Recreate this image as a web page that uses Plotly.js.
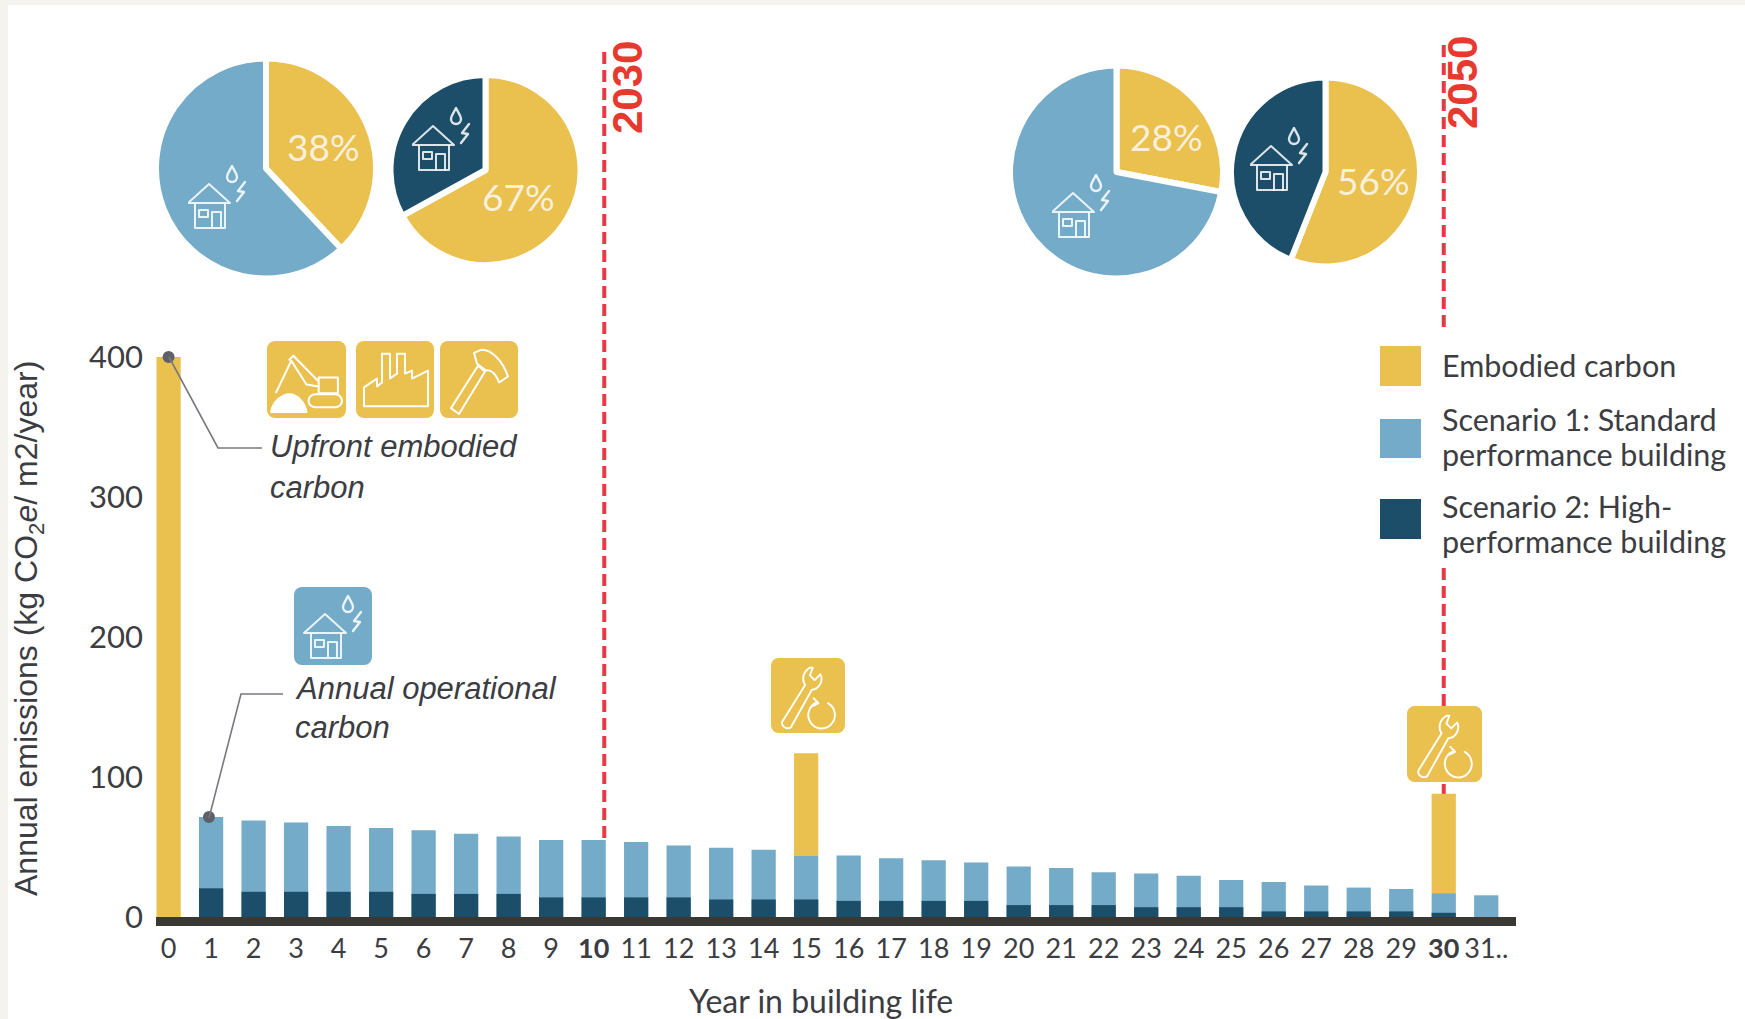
<!DOCTYPE html>
<html>
<head>
<meta charset="utf-8">
<title>Annual emissions over building life</title>
<script src="https://cdn.plot.ly/plotly-3.0.1.min.js"></script>
<style>html,body{margin:0;padding:0;background:#fff}#chart{width:1745px;height:1019px}</style>
</head>
<body>
<div id="chart"></div>
<script>
// Annual emissions per year of building life (kg CO2e/m2/year)
const years = [0,1,2,3,4,5,6,7,8,9,10,11,12,13,14,15,16,17,18,19,20,21,22,23,24,25,26,27,28,29,30,31];
const yearLabels = ['0','1','2','3','4','5','6','7','8','9','<b>10</b>','11','12','13','14','15','16','17','18','19','20','21','22','23','24','25','26','27','28','29','<b>30</b>','31..'];
const scenario1 = [0,71.5,69,67.5,65,63.5,62,59.5,57.5,55,55,53.5,51,49.5,48,44,44,42,40.5,39,36,35,32,31,29.5,26.5,25,22.5,21,20,17,15.5];
const scenario2 = [0,20.5,18,18,18,18,16.5,16.5,16.5,14,14,14,14,12.5,12.5,12.5,11.5,11.5,11.5,11.5,8.5,8.5,8.5,7,7,7,4,4,4,4,3,0];
const embodied  = [400,0,0,0,0,0,0,0,0,0,0,0,0,0,0,73,0,0,0,0,0,0,0,0,0,0,0,0,0,0,71,0];
const yTicks = [0,100,200,300,400];

// Share of whole-life carbon at 2030 and 2050 for each scenario
const shareLabels = ['Embodied carbon','Operational carbon'];
const share2030s1 = [38,62];
const share2030s2 = [67,33];
const share2050s1 = [28,72];
const share2050s2 = [56,44];

const GOLD='#eac04f', BLUE='#74abc8', NAVY='#1c4e69', BASE='#3a3835', RED='#e63946', INK='#3c3d42';
const W=1745, H=1019;
const px = x => x/W;
const py = y => 1-y/H;

const bars = [
  {type:'bar',name:'Embodied carbon',x:years,y:embodied,base:scenario1,marker:{color:GOLD}},
  {type:'bar',name:'Scenario 1: Standard performance building',x:years,y:scenario1,marker:{color:BLUE}},
  {type:'bar',name:'Scenario 2: High-performance building',x:years,y:scenario2,marker:{color:NAVY}}
].map(t=>Object.assign(t,{width:0.57,showlegend:false,hoverinfo:'x+y+name'}));

// Callout anchors sit on the top of year 0 and year 1
const anchors = {type:'scatter',mode:'markers',x:[0,years[1]-0.05],y:[embodied[0],scenario1[1]],cliponaxis:false,
  marker:{size:12,color:'#5d6068'},showlegend:false,hoverinfo:'skip'};

function pie(values,cx,cy,r,second){
  return {type:'pie',values:values,labels:shareLabels,sort:false,direction:'clockwise',rotation:0,
    marker:{colors:[GOLD,second],line:{color:'#fff',width:6}},textinfo:'none',hoverinfo:'label+percent',showlegend:false,
    domain:{x:[px(cx-r-3),px(cx+r+3)],y:[py(cy+r+3),py(cy-r-3)]}};
}
const pies = [
  pie(share2030s1,266,168.5,107,BLUE),
  pie(share2030s2,485.5,170,92,NAVY),
  pie(share2050s1,1116.5,172,103.5,BLUE),
  pie(share2050s2,1325.5,172,91.5,NAVY)
];

// Line-art icons, as small SVG documents
const svg = (w,h,body)=>'data:image/svg+xml;utf8,'+encodeURIComponent(
  `<svg xmlns="http://www.w3.org/2000/svg" viewBox="0 0 ${w} ${h}" width="${w*3}" height="${h*3}"><g fill="none" stroke="#fff" stroke-width="2" stroke-linejoin="round" stroke-linecap="round">${body}</g></svg>`);
const tile = c=>`<rect x="0" y="0" width="78" height="78" rx="8" fill="${c}" stroke="none"/>`;
const houseArt = `<g stroke-opacity=".85">
  <path d="M0 40 L21 21 L42 40 Z"/><path d="M7 41 V65 H37 V41"/>
  <rect x="11" y="47" width="9" height="7"/><path d="M24 65 V49 H33 V65"/>
  <path d="M44 3 C41 9 39 11 39 14 A5 5 0 0 0 49 14 C49 11 47 9 44 3 Z" stroke-width="2.4"/>
  <path d="M57 19 L50 28 L56 29 L49 38" stroke-width="2.4"/></g>`;
const excavator = `<rect x="41" y="54" width="33" height="13" rx="6.5"/><rect x="51" y="37" width="19" height="16"/>
  <path d="M51 46 L39 44 L24 20 L9 52"/><path d="M50 40 L26 15 L22 19"/>
  <path d="M4 72 C6 60 16 54 22 54 C30 54 37 62 39 72 Z" fill="#fff"/>`;
const factory = `<path d="M8 66 V47 L21 38 V46 L26 42 V13 H34 V38 L41 33 V13 H49 V33 L56 30 V38 L72 30 V66 Z"/>`;
const hammer = `<path d="M11 68 L38 25 L45 31 L19 74 Z"/><path d="M37 23 L34 12 L41 9 C50 8 62 18 68 36 L59 42 C56 33 50 28 46 30 Z"/>`;
const wrench = `<path d="M12 66 L36 28 C32 22 34 14 41 10 L44 10 L41 18 L46 23 L52 17 C56 24 50 33 43 33 L21 72 C17 75 10 71 12 66 Z"/>
  <path d="M49 46 A14 14 0 1 0 60 47"/><path d="M45 42 L50 47 L44 50"/>`;
function icon(src,x,y,w,h){return {source:src,xref:'paper',yref:'paper',x:px(x),y:py(y),sizex:w/W,sizey:h/H,sizing:'stretch',xanchor:'left',yanchor:'top',layer:'above'};}
const images = [
  icon(svg(78,78,tile(GOLD)+excavator),267,341,79,77),
  icon(svg(78,78,tile(GOLD)+factory),356,341,78,77),
  icon(svg(78,78,tile(GOLD)+hammer),440,341,78,77),
  icon(svg(78,78,tile(BLUE)+`<g transform="translate(10,6)">${houseArt}</g>`),294,587,78,78),
  icon(svg(78,78,tile(GOLD)+wrench),771,658,74,75),
  icon(svg(78,78,tile(GOLD)+wrench),1407,706,75,76),
  icon(svg(60,67,houseArt),188,163,60,67),
  icon(svg(60,67,houseArt),412,105,60,67),
  icon(svg(60,67,houseArt),1052,172,60,67),
  icon(svg(60,67,houseArt),1250,125,60,67)
];

const rectPx = (x0,y0,x1,y1,fill)=>({type:'rect',xref:'paper',yref:'paper',x0:px(x0),x1:px(x1),y0:py(y0),y1:py(y1),fillcolor:fill,line:{width:0},layer:'below'});
const dashed = (xv,y0,y1)=>({type:'line',xref:'x',yref:'paper',layer:'below',x0:xv,x1:xv,y0:py(y0),y1:py(y1),line:{color:RED,width:4,dash:'12px,6px'}});
const leader = pts=>({type:'path',xref:'paper',yref:'paper',path:pts.map((p,i)=>(i?'L':'M')+px(p[0])+','+py(p[1])).join(' '),line:{color:'#77797e',width:1.6}});
const shapes = [
  rectPx(0,0,8,H,'#f5f3ee'), rectPx(0,0,W,5,'#f5f3ee'),
  dashed(10.25,52,838), dashed(30,45,333), dashed(30,568,794),
  leader([[169,357],[218,448],[262,448]]),
  leader([[209,818],[241,694],[283,694]]),
  rectPx(1380,346,1421,386,GOLD), rectPx(1380,419,1421,458,BLUE), rectPx(1380,499,1421,539,NAVY)
];

const note = (text,x,y,opt)=>Object.assign({text:text,xref:'paper',yref:'paper',x:px(x),y:py(y),showarrow:false,xanchor:'left',yanchor:'middle',align:'left'},opt);
const legendFont = {family:'Lato, sans-serif',size:30.5,color:INK};
const calloutFont = {family:'Liberation Sans, sans-serif',size:31,color:INK};
const pctFont = {family:'Lato, sans-serif',size:37,color:'#f8f0da'};
const pct = (v,x,y)=>note(v+'%',x,y,{font:pctFont,xanchor:'center'});
const milestone = (t,x,y)=>note(t,x,y,{font:{family:'Liberation Sans, sans-serif',size:42,color:'#e8392e',weight:700},textangle:-90,xanchor:'center'});
const annotations = [
  pct(share2030s1[0],323,147), pct(share2030s2[0],518,196), pct(share2050s1[0],1166,137), pct(share2050s2[0],1373,180),
  milestone('2030',627,88), milestone('2050',1463,83),
  note('<i>Upfront embodied</i>',268,447,{font:calloutFont}), note('<i>carbon</i>',268,488,{font:calloutFont}),
  note('<i>Annual operational</i>',293,688,{font:calloutFont}), note('<i>carbon</i>',293,727,{font:calloutFont}),
  note('Embodied carbon',1440,365,{font:legendFont}),
  note('Scenario 1: Standard',1440,419,{font:legendFont}), note('performance building',1440,454,{font:legendFont}),
  note('Scenario 2: High-',1440,506,{font:legendFont}), note('performance building',1440,541,{font:legendFont}),
  // Axis titles, each centred on its own label block
  note('Year in building life',821,1000,{font:{size:32,color:INK},xanchor:'center'}),
  note('Annual emissions (kg CO<sub>2</sub><i>e</i>/ m2/year)',28,629,{font:{family:'Liberation Sans, sans-serif',size:32,color:INK},xanchor:'center',textangle:-90})
];

const layout = {
  width:W,height:H,margin:{l:0,r:0,t:0,b:0},paper_bgcolor:'#fff',plot_bgcolor:'rgba(0,0,0,0)',barmode:'overlay',showlegend:false,
  font:{family:'Lato, sans-serif',color:INK},
  xaxis:{domain:[px(156),px(1516)],range:[-0.296,31.7],tickmode:'array',tickvals:years,ticktext:yearLabels,ticks:'',
    tickangle:0,showgrid:false,zeroline:false,showline:true,linecolor:BASE,linewidth:9,ticklabelstandoff:0,tickfont:{size:27,color:INK}},
  yaxis:{domain:[py(917),py(357)],range:[0,400],tickmode:'array',tickvals:yTicks,ticks:'',showgrid:false,zeroline:false,showline:false,
    ticklabelstandoff:12,tickfont:{size:31,color:INK}},
  shapes:shapes,annotations:annotations,images:images
};
Plotly.newPlot('chart',[...pies,...bars,anchors],layout,{displayModeBar:false,responsive:false});
</script>
</body>
</html>
